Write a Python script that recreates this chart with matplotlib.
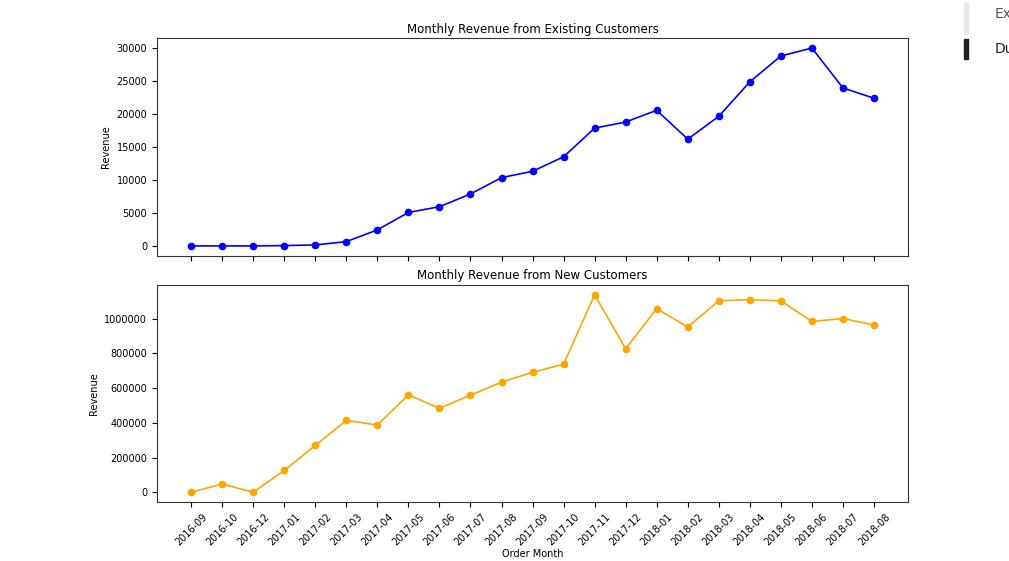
import numpy as np
from matplotlib import pyplot as plt
from matplotlib.patches import Rectangle

months = ["2016-09", "2016-10", "2016-12", "2017-01", "2017-02", "2017-03", "2017-04",
          "2017-05", "2017-06", "2017-07", "2017-08", "2017-09", "2017-10", "2017-11",
          "2017-12", "2018-01", "2018-02", "2018-03", "2018-04", "2018-05", "2018-06",
          "2018-07", "2018-08"]

existing_revenue = [0, 0, 0, 50, 150, 650, 2430, 5070, 5940, 7870, 10350, 11310, 13500,
                    17850, 18770, 20550, 16180, 19630, 24860, 28770, 29980, 23940, 22370]

new_revenue = [1000, 48000, 1000, 126000, 270000, 414000, 387000, 561000, 483000, 559000,
               634000, 690000, 738000, 1136000, 826000, 1056000, 951000, 1102000, 1108000,
               1102000, 983000, 1000000, 962000]

fig = plt.figure(figsize=(10.09, 5.61), dpi=100)
ax1 = fig.add_axes([0.1556, 0.544, 0.7444, 0.388])
ax2 = fig.add_axes([0.1556, 0.105, 0.7444, 0.387], sharex=ax1)

ax1.plot(months, existing_revenue, marker="o", color="blue", linewidth=1.2, markersize=4.5)
ax1.set_title("Monthly Revenue from Existing Customers", fontsize=8.5, pad=4)
ax1.set_ylabel("Revenue", fontsize=7)
ax1.tick_params(labelsize=7, labelbottom=False)

ax2.plot(months, new_revenue, marker="o", color="orange", linewidth=1.2, markersize=4.5)
ax2.set_title("Monthly Revenue from New Customers", fontsize=8.5, pad=4)
ax2.set_ylabel("Revenue", fontsize=7)
ax2.set_xlabel("Order Month", fontsize=7, labelpad=1)
ax2.ticklabel_format(axis="y", style="plain")
ax2.tick_params(labelsize=7)
plt.setp(ax2.get_xticklabels(), rotation=45, ha="center", rotation_mode="default")

for ax in (ax1, ax2):
    for s in ax.spines.values():
        s.set_linewidth(0.8)
        s.set_color("#333333")

# screenshot side panel remnants
fig.patches.append(Rectangle((0.9555, 0.94), 0.004, 0.055, transform=fig.transFigure,
                             color="#e8e8e8"))
fig.patches.append(Rectangle((0.9555, 0.895), 0.004, 0.035, transform=fig.transFigure,
                             color="#222222"))
fig.text(0.986, 0.975, "Ex", fontsize=10, color="#555555", va="center")
fig.text(0.986, 0.912, "Du", fontsize=10, color="#222222", va="center")

fig.savefig("out.png", dpi=100)
